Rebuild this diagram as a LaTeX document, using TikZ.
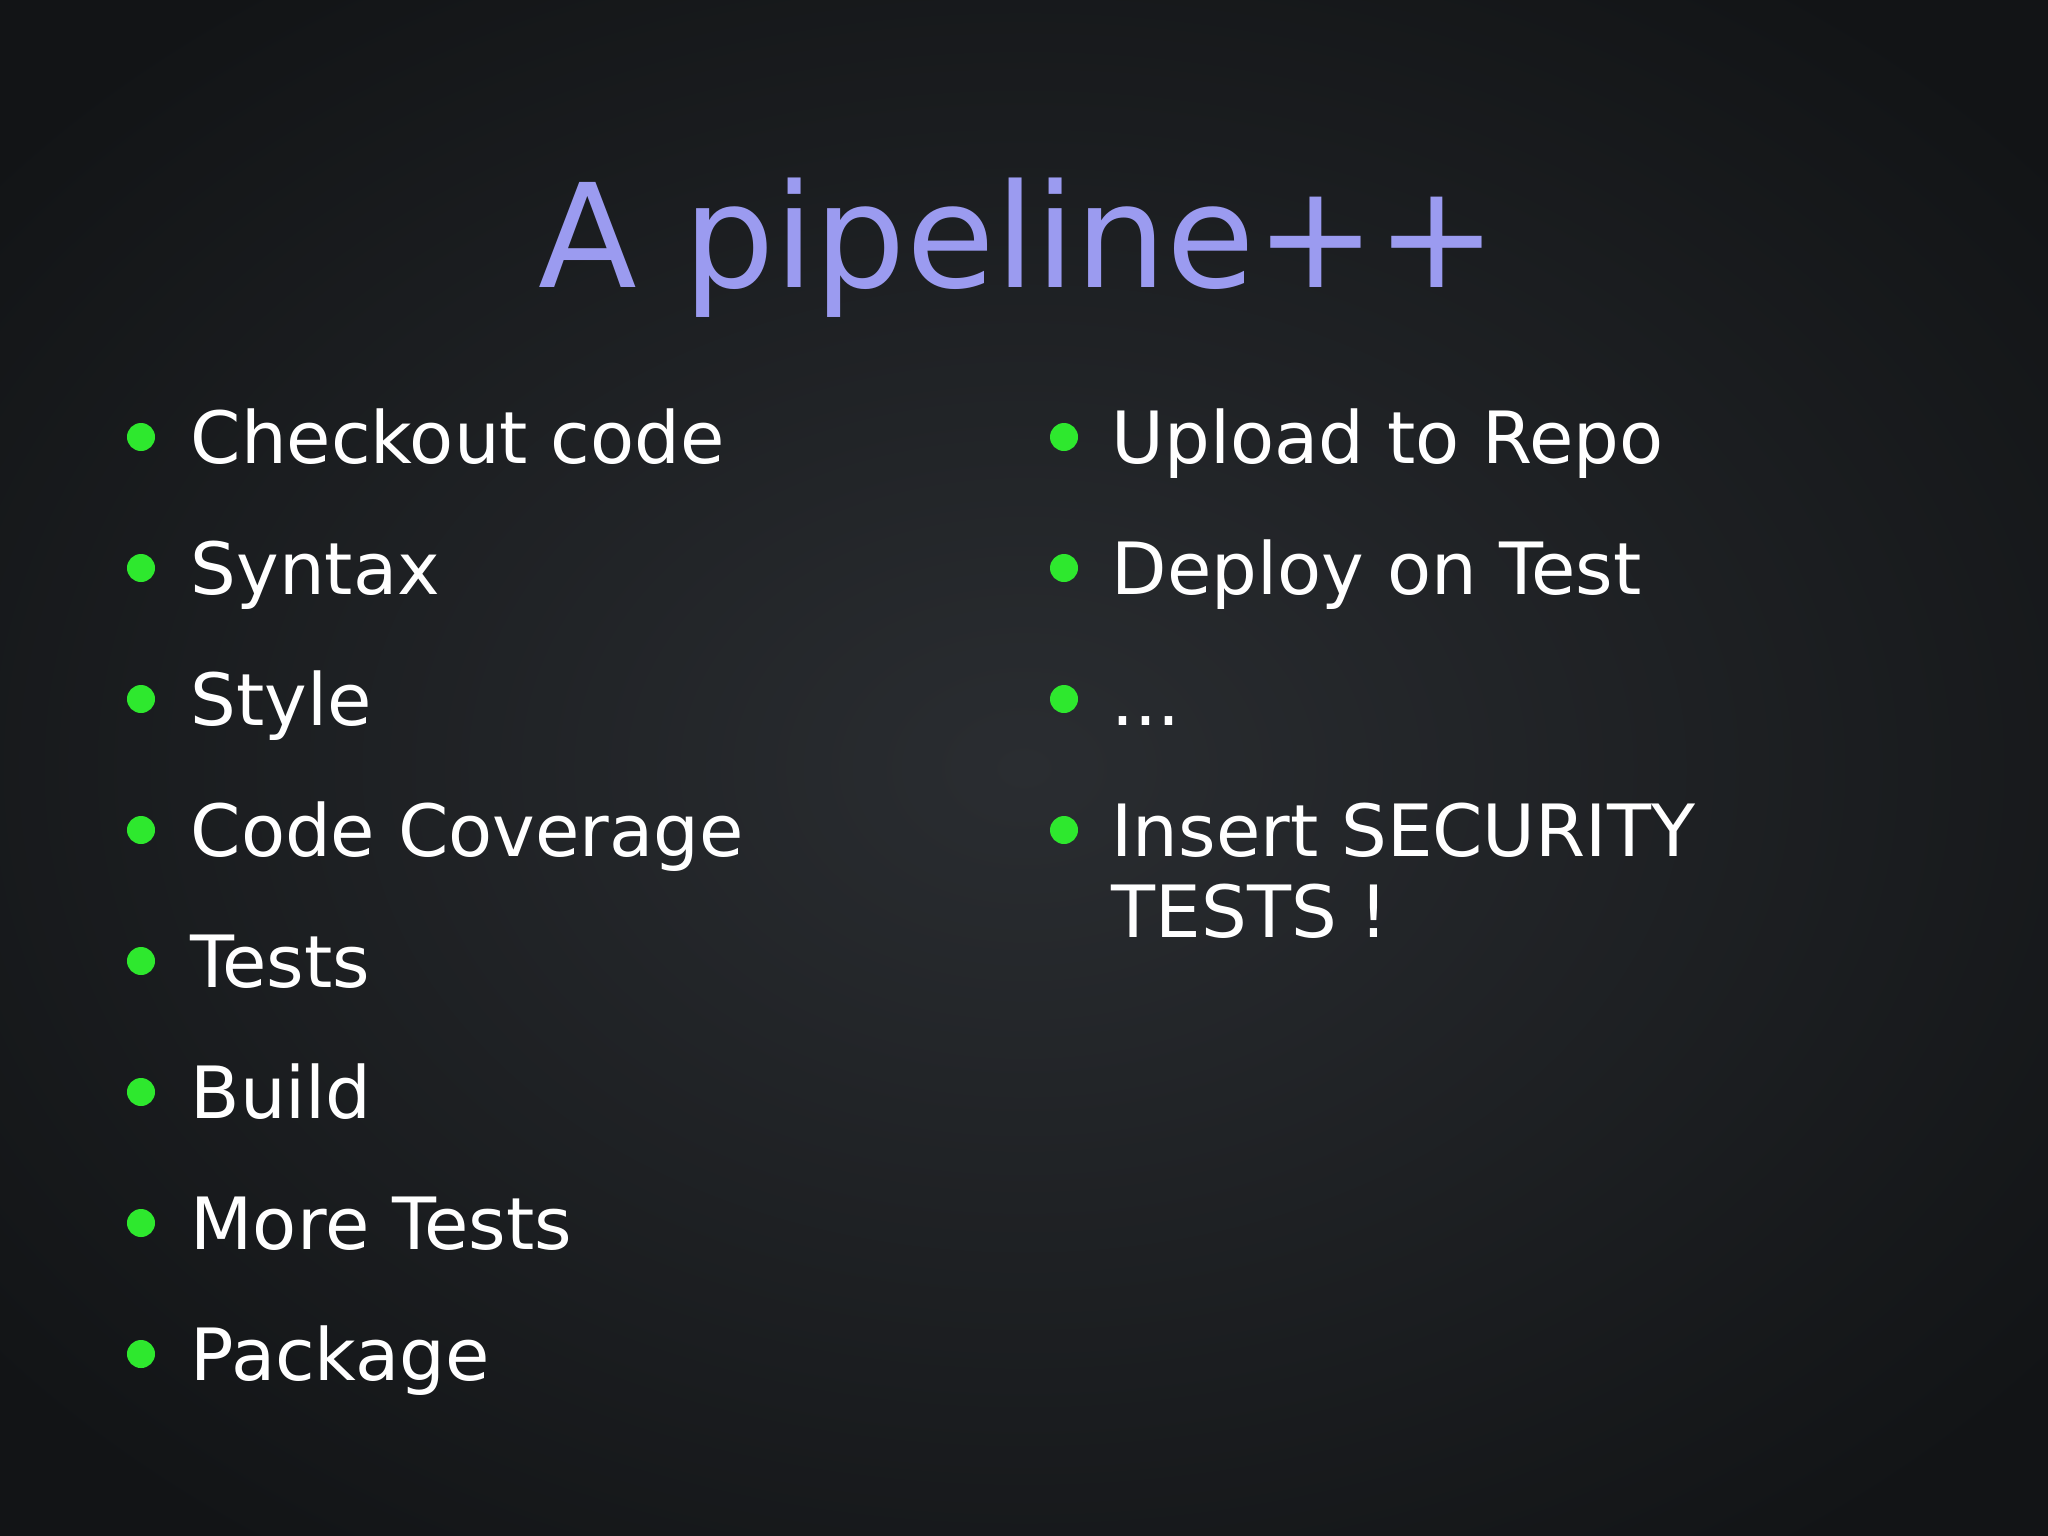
\documentclass[tikz,border=0pt]{standalone}
\usepackage{fontspec}
\setmainfont{DejaVu Sans}
\definecolor{bg}{HTML}{2A2D31}
\definecolor{bgd}{HTML}{121416}
\definecolor{ttl}{HTML}{9B9BF0}
\definecolor{bul}{HTML}{2EE82E}
\begin{document}
\begin{tikzpicture}[x=0.01cm,y=-0.01cm,
  item/.style={anchor=base west,inner sep=0,text=white,font=\fontsize{20.5}{24}\selectfont,align=left},
  dot/.style={circle,fill=bul,inner sep=0,minimum size=0.28cm}]
\useasboundingbox (0,0) rectangle (2048,1536);
\shade[inner color=bg,outer color=bgd] (-300,-200) rectangle (2348,1736);
\node[anchor=base,inner sep=0,text=ttl,font=\fontsize{41}{48}\selectfont] (title) at (1018,287) {A pipeline++};
\foreach \t [count=\i] in {Checkout code,Syntax,Style,Code Coverage,Tests,Build,More Tests,Package}{
  \node[dot] (d\i) at (141,{463+131*(\i-1)-26}) {};
  \node[item] (l\i) at (190,{463+131*(\i-1)}) {\t};
}
\node[dot] (r1) at (1064,437) {};
\node[item] (rl1) at (1111,463) {Upload to Repo};
\node[dot] (r2) at (1064,568) {};
\node[item] (rl2) at (1111,594) {Deploy on Test};
\node[dot] (r3) at (1064,699) {};
\node[item] (rl3) at (1111,725) {...};
\node[dot] (r4) at (1064,830) {};
\node[item] (rl4) at (1111,856) {Insert SECURITY};
\node[item] (rl4b) at (1111,937) {TESTS !};
\end{tikzpicture}
\end{document}
